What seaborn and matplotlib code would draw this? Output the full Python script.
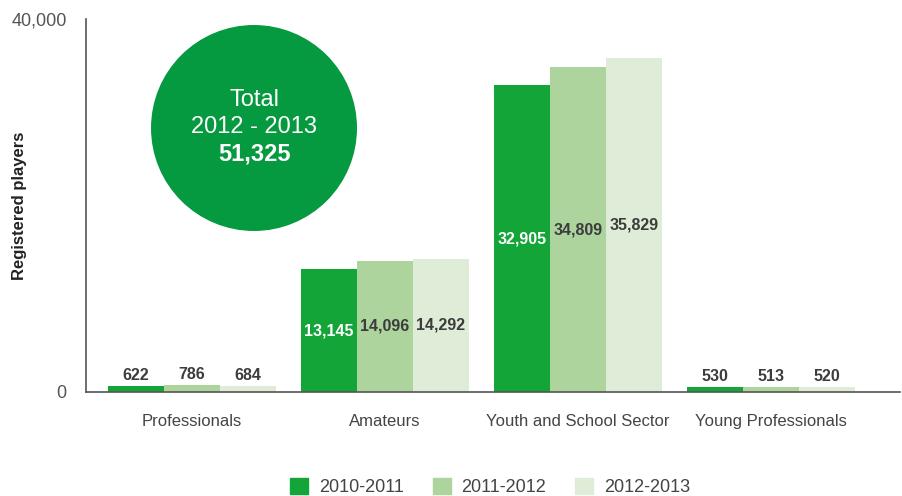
import numpy as np
import pandas as pd
import seaborn as sns
import matplotlib.pyplot as plt
from matplotlib.patches import Ellipse

categories = ["Professionals", "Amateurs", "Youth and School Sector", "Young Professionals"]
seasons = ["2010-2011", "2011-2012", "2012-2013"]
players_2010 = [622, 13145, 32905, 530]
players_2011 = [786, 14096, 34809, 513]
players_2012 = [684, 14292, 35829, 520]
total_label = "51,325"

df = pd.DataFrame({
    "category": categories * 3,
    "season": [s for s in seasons for _ in categories],
    "players": players_2010 + players_2011 + players_2012,
})

colors = ["#13a538", "#acd49c", "#dfedd8"]
text_colors = ["white", "#3c3c3c", "#3c3c3c"]

sns.set_style("white")
plt.rcParams["font.family"] = ["Liberation Sans", "DejaVu Sans"]

fig = plt.figure(figsize=(9.02, 4.96), dpi=100)
ax = fig.add_axes([86 / 902, 1 - 392 / 496, 814 / 902, 373 / 496])

sns.barplot(data=df, x="category", y="players", hue="season", palette=colors,
            width=0.87, saturation=1, linewidth=0, ax=ax, legend=False)

# value labels: inside the bar at half height, or above small bars
for i, cont in enumerate(ax.containers):
    for bar, val in zip(cont, df[df["season"] == seasons[i]]["players"]):
        cx = bar.get_x() + bar.get_width() / 2
        if val > 5000:
            ax.text(cx, val / 2, f"{val:,}", ha="center", va="center",
                    color=text_colors[i], fontsize=11.5, fontweight="bold")
        else:
            ax.text(cx, val + 300, f"{val:,}", ha="center", va="bottom",
                    color="#3c3c3c", fontsize=11.5, fontweight="bold")

ax.set_ylim(0, 40000)
ax.set_xlim(-0.55, 3.67)
ax.set_yticks([0, 40000])
ax.set_yticklabels(["0", "40,000"], color="#555555", fontsize=13)
ax.tick_params(axis="y", pad=14, length=0)
ax.tick_params(axis="x", pad=16, length=0, labelsize=12, labelcolor="#444444")
ax.set_xlabel("")
ax.set_ylabel("Registered players", fontsize=12, fontweight="bold", color="#222222")
ax.yaxis.set_label_coords(-0.072, 0.5)
sns.despine(ax=ax, top=True, right=True)
for side in ["left", "bottom"]:
    ax.spines[side].set_color("#555555")
    ax.spines[side].set_linewidth(1.2)

# total bubble
circ = Ellipse((254 / 902, 1 - 128 / 496), 206 / 902, 206 / 496,
               transform=fig.transFigure, facecolor="#069a40", edgecolor="none", zorder=5)
fig.patches.append(circ)
fig.text(254 / 902, 1 - 100 / 496, "Total", ha="center", va="center", color="white",
         fontsize=17, zorder=6)
fig.text(254 / 902, 1 - 127 / 496, "2012 - 2013", ha="center", va="center", color="white",
         fontsize=17, zorder=6)
fig.text(254 / 902, 1 - 154 / 496, total_label, ha="center", va="center", color="white",
         fontsize=17, fontweight="bold", zorder=6)

# legend
handles = [plt.Rectangle((0, 0), 1, 1, color=c) for c in colors]
fig.legend(handles, seasons, loc="center", bbox_to_anchor=(490 / 902, 1 - 487 / 496),
           ncol=3, frameon=False, fontsize=13, handlelength=1.0, handleheight=1.0,
           columnspacing=1.6, handletextpad=0.6, labelcolor="#444444")

fig.savefig("out.png", dpi=100)
